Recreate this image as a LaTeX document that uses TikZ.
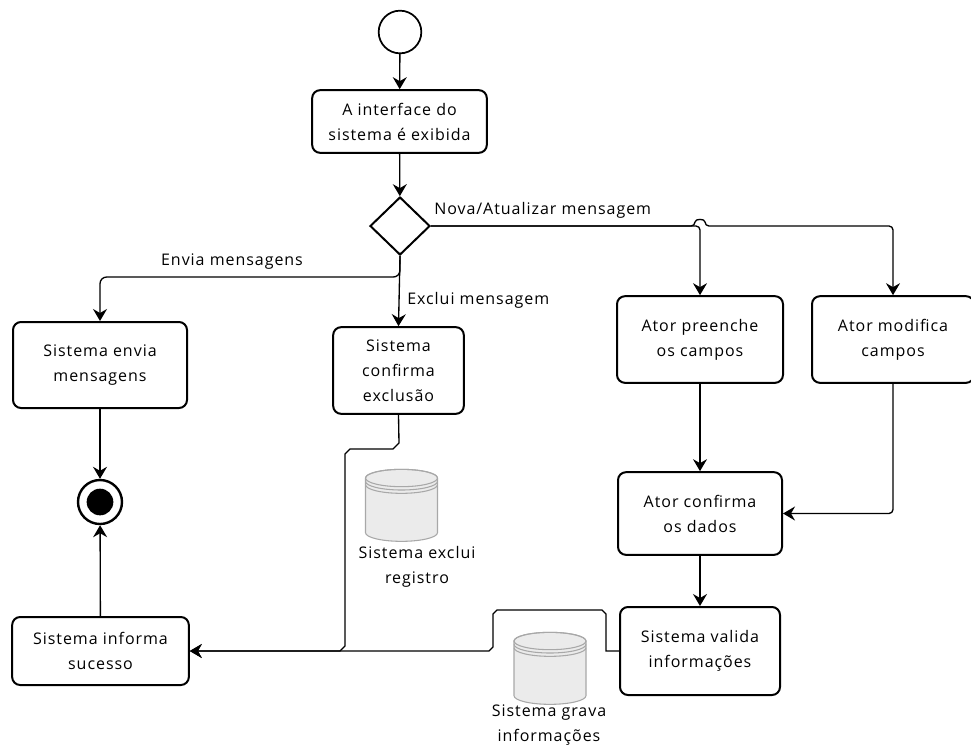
\documentclass[tikz,border=0pt]{standalone}
\usepackage{fontspec}
\setmainfont{Open Sans}[LetterSpace=6]
\usetikzlibrary{shapes.geometric,arrows.meta}
\definecolor{dbfill}{HTML}{EBEBEB}
\definecolor{dbline}{HTML}{A8A8A8}
\begin{document}
\begin{tikzpicture}[x=0.75pt,y=-0.75pt,
  txt/.style={font=\fontsize{12}{18.75}\selectfont, align=center},
  act/.style={txt, draw, rounded corners=6pt, line width=1.5pt, inner sep=0pt},
  arr/.style={-{Stealth[length=9pt,width=10.5pt,inset=3pt]}, line width=1pt},
  lbl/.style={font=\fontsize{12}{18.75}\selectfont, inner sep=0pt},
  dbcyl/.pic={
    \path[fill=dbfill, draw=dbline, line width=0.8pt]
      (-27pt,0pt) -- (-27pt,-41pt)
      arc[start angle=180,end angle=360,x radius=27pt,y radius=6.5pt]
      -- (27pt,0pt) arc[start angle=0,end angle=180,x radius=27pt,y radius=6.5pt] -- cycle;
    \draw[dbline, line width=0.8pt] (0pt,0pt) ellipse[x radius=27pt,y radius=6.5pt];
    \draw[dbline, line width=0.8pt] (-27pt,-2.5pt) arc[start angle=180,end angle=360,x radius=27pt,y radius=6.5pt];
    \draw[dbline, line width=0.8pt] (-27pt,-5pt) arc[start angle=180,end angle=360,x radius=27pt,y radius=6.5pt];
  }]
\useasboundingbox (0,0) rectangle (971,751);

% nodes
\node[circle, draw, line width=1.3pt, minimum size=32pt, inner sep=0pt] (start) at (400,32) {};
\node[act, minimum width=131pt, minimum height=47pt] (iface) at (399.5,121.5) {A interface do\\sistema é exibida};
\node[diamond, draw, line width=1.5pt, minimum width=45pt, minimum height=43.5pt, inner sep=0pt] (dec) at (400,226) {};
\node[act, minimum width=130.5pt, minimum height=64.5pt] (envia) at (100,365) {Sistema envia\\mensagens};
\node[act, minimum width=98pt, minimum height=65pt] (confexc) at (398.5,370.5) {Sistema\\confirma\\exclusão};
\node[act, minimum width=124.5pt, minimum height=65pt] (preenche) at (700,339.5) {Ator preenche\\os campos};
\node[act, minimum width=121.5pt, minimum height=65pt] (modifica) at (893,339.5) {Ator modifica\\campos};
\node[act, minimum width=123pt, minimum height=62pt] (confirma) at (700,513.5) {Ator confirma\\os dados};
\node[act, minimum width=120pt, minimum height=66pt] (valida) at (700,651) {Sistema valida\\informações};
\node[act, minimum width=132.5pt, minimum height=51pt] (informa) at (100.5,651) {Sistema informa\\sucesso};
\node[circle, draw, line width=1.8pt, minimum size=33pt, inner sep=0pt] (fin) at (100,502) {};
\fill (fin.center) circle (10pt);

% databases
\pic at (401.5,478) {dbcyl};
\node[txt, inner sep=0pt] (db1) at (417,567) {Sistema exclui\\registro};
\pic at (550,641) {dbcyl};
\node[txt, inner sep=0pt] (db2) at (549,725) {Sistema grava\\informações};

% connectors
\draw[arr] (start) -- (iface);
\draw[arr] (iface) -- (dec);
\draw[arr] (dec.south) -- (confexc.north);
\node[lbl, anchor=west] (lexc) at (407,300) {Exclui mensagem};
\coordinate (j1) at (400,277);
\draw[arr, rounded corners=5pt] (dec.south) -- (j1) -| (envia.north);
\node[lbl] (lenv) at (232,262) {Envia mensagens};
\draw[arr, rounded corners=3pt] (dec.east) -| (preenche.north);
\draw[arr, rounded corners=3pt] (dec.east) -- (695,226)
   .. controls (695,218.5) and (705,218.5) .. (705,226) -| (modifica.north);
\node[lbl, anchor=west] (lnova) at (434,210) {Nova/Atualizar mensagem};
\draw[arr] (preenche) -- (confirma);
\draw[arr, rounded corners=3pt] (modifica.south) |- (confirma.east);
\draw[arr] (confirma) -- (valida);
\draw[arr] (valida.west) -- (606,651) -- (606,614) -- (602,610) -- (497,610) -- (493,614) -- (493,647) -- (489,651) -- (informa.east);
\draw[arr] (confexc.south) -- (399,443) -- (393,449) -- (350,449) -- (345,454) -- (345,646) -- (340,651) -- (informa.east);
\draw[arr] (envia) -- (fin);
\draw[arr] (informa) -- (fin);
\end{tikzpicture}
\end{document}
